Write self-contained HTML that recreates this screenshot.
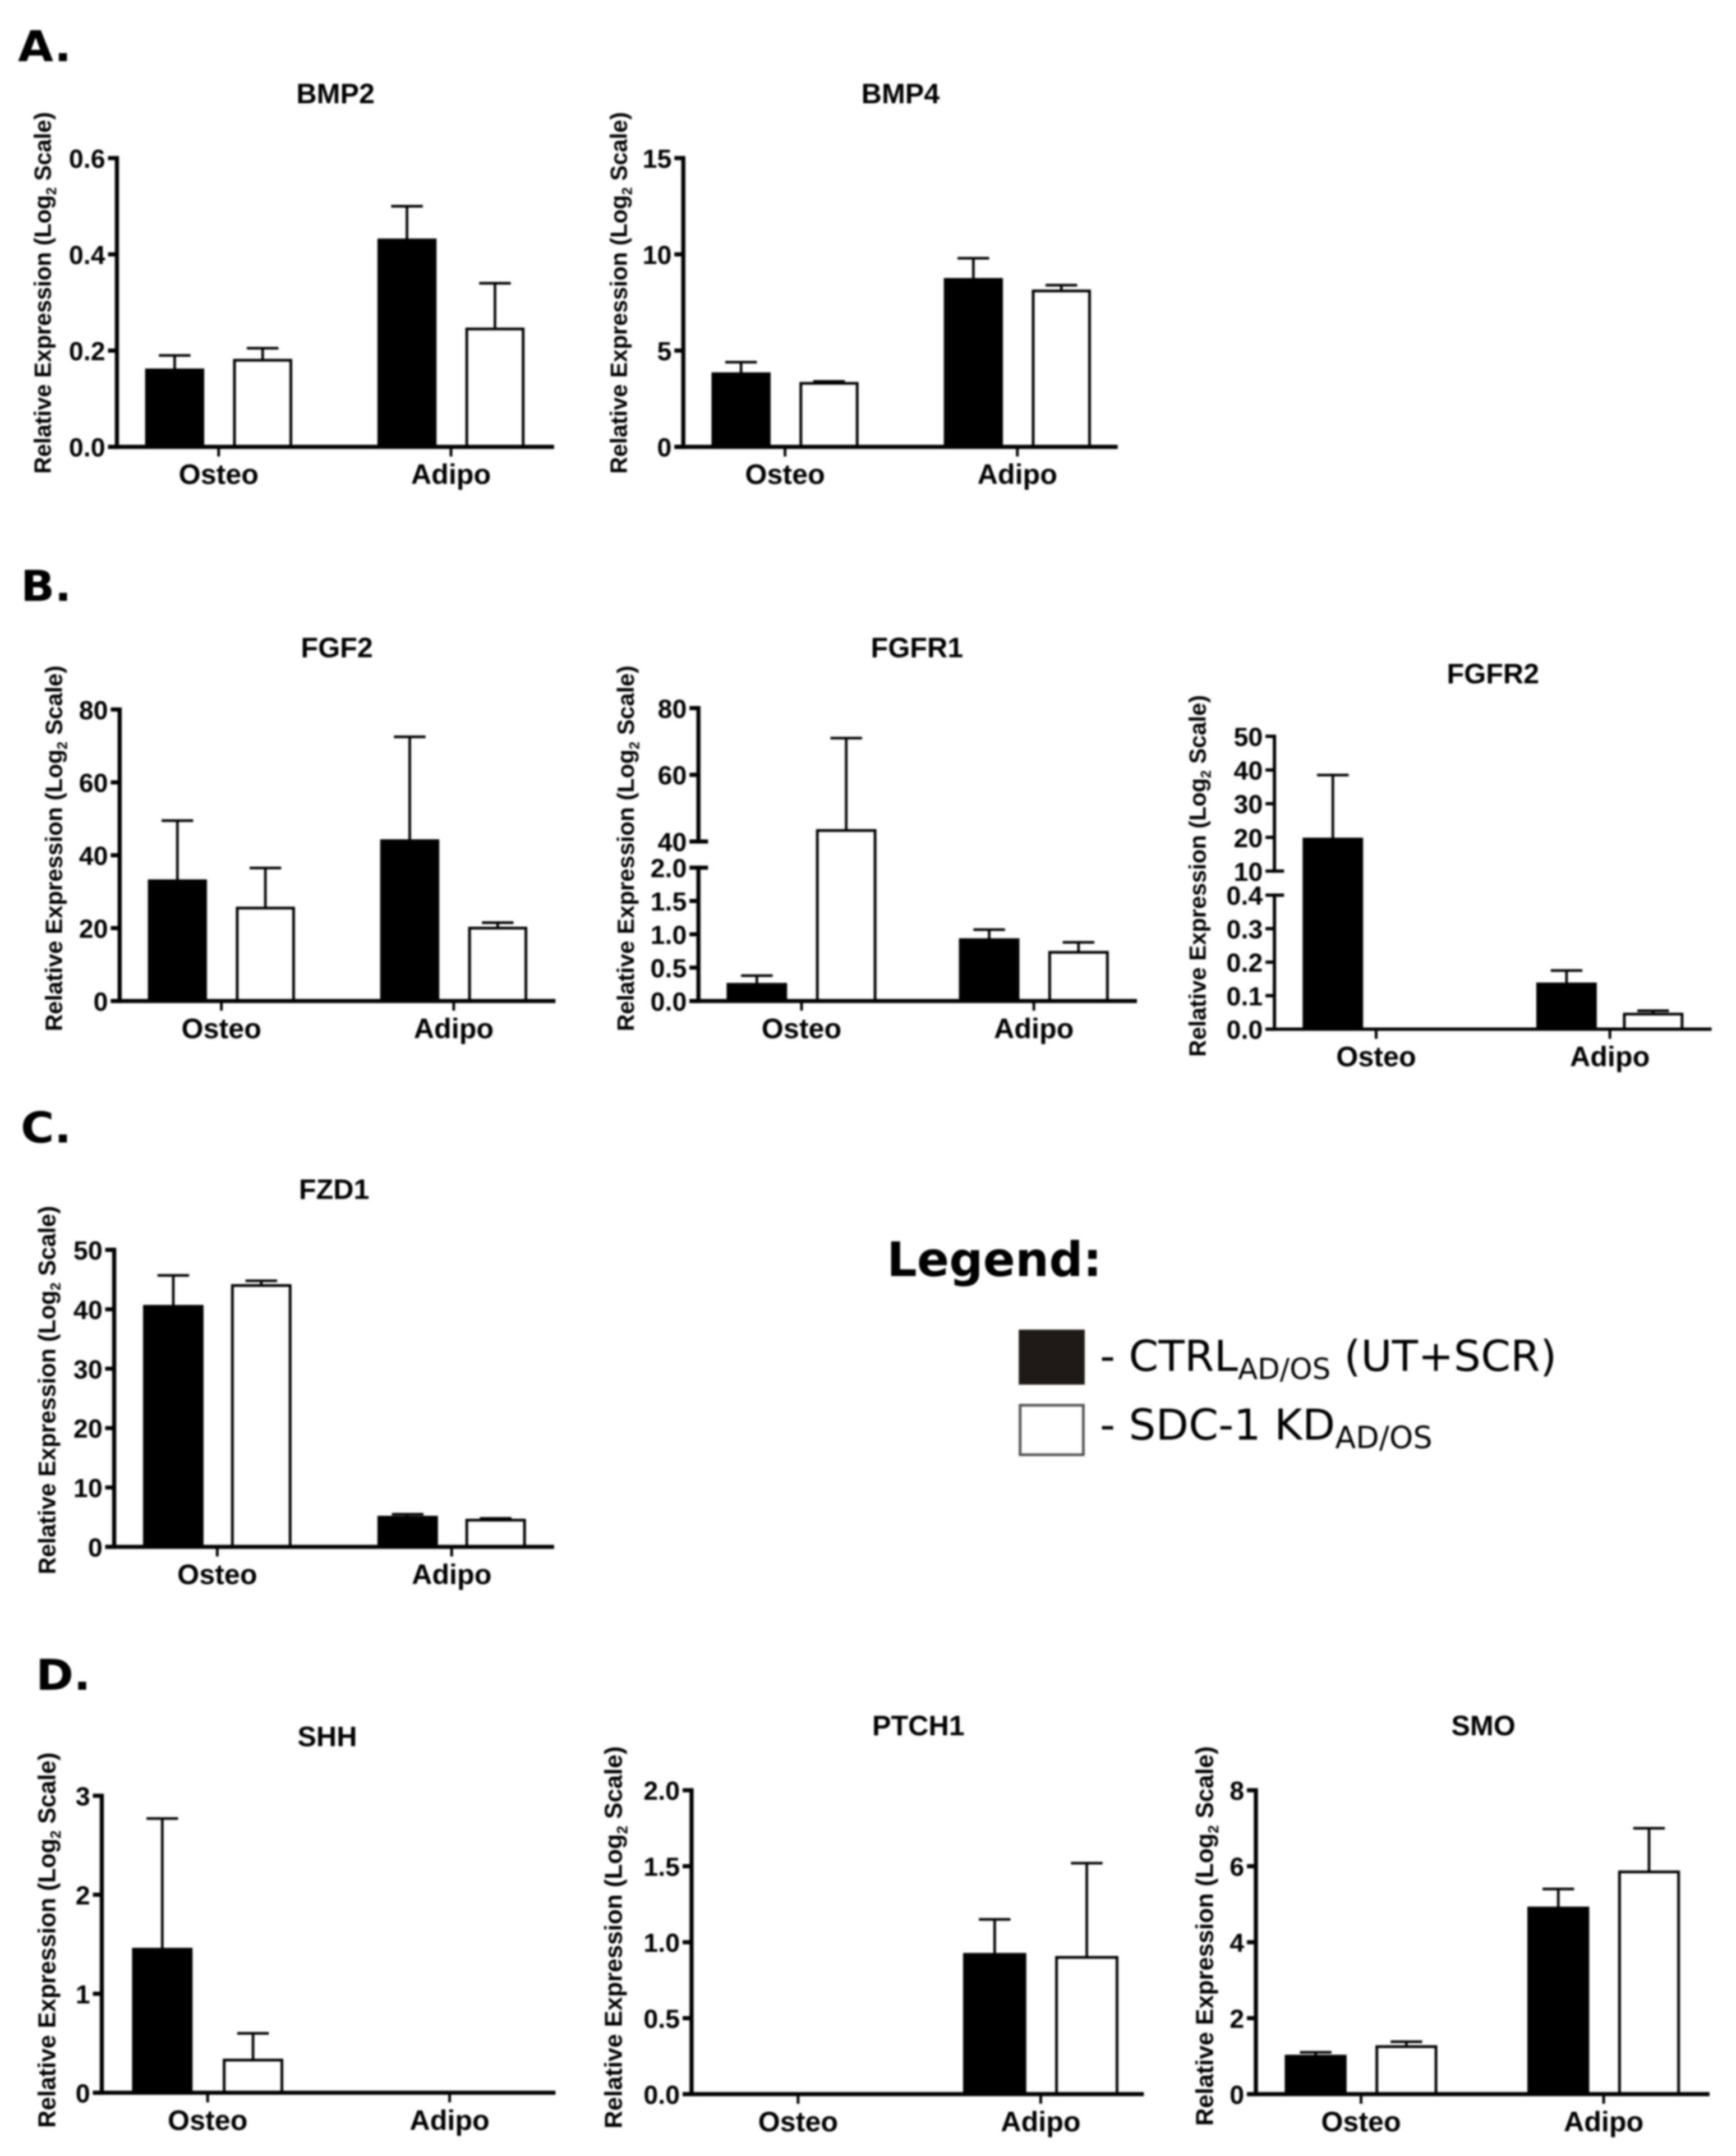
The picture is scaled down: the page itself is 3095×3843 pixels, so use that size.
<!DOCTYPE html>
<html lang="en">
<head>
<meta charset="utf-8">
<title>Relative expression bar charts</title>
<style>
html,body{margin:0;padding:0;background:#fff;width:3095px;height:3843px;overflow:hidden}
svg{display:block;filter:blur(1.6px)}
text{font-family:"Liberation Sans",Arial,sans-serif;fill:#000}
.dv{font-family:"DejaVu Sans",Verdana,sans-serif}
</style>
</head>
<body>
<svg id="figure" xmlns="http://www.w3.org/2000/svg" width="3095" height="3843" viewBox="0 0 1262.7 1568">
  <text class="dv" x="13" y="44.5" font-size="31" font-weight="700" textLength="39" lengthAdjust="spacingAndGlyphs">A.</text>
  <text class="dv" x="15" y="437" font-size="31" font-weight="700" textLength="37" lengthAdjust="spacingAndGlyphs">B.</text>
  <text class="dv" x="15" y="831" font-size="31" font-weight="700" textLength="37" lengthAdjust="spacingAndGlyphs">C.</text>
  <text class="dv" x="26" y="1229" font-size="31" font-weight="700" textLength="40" lengthAdjust="spacingAndGlyphs">D.</text>
  <g>
    <text class="dv" x="645" y="928" font-size="34.5" font-weight="700">Legend:</text>
    <rect x="741" y="967" width="48" height="40" fill="#1f1a17"/>
    <text class="dv" x="800" y="997" font-size="31">- CTRL<tspan font-size="21" dy="6">AD/OS</tspan><tspan dy="-6"> (UT+SCR)</tspan></text>
    <rect x="742" y="1022" width="46" height="36" fill="#fff" stroke="#555" stroke-width="2"/>
    <text class="dv" x="800" y="1047" font-size="31">- SDC-1 KD<tspan font-size="22" dy="6">AD/OS</tspan></text>
  </g>
  <g id="charts"></g>
</svg>
<script>
// ---- chart data ----
const categories = ['Osteo', 'Adipo'];

const bmp2Ctrl = [0.16, 0.43];
const bmp2Kd = [0.18, 0.245];
const bmp2CtrlTop = [0.19, 0.50];
const bmp2KdTop = [0.205, 0.34];
const bmp2Ticks = [0, 0.2, 0.4, 0.6];
const bmp2Labels = ['0.0', '0.2', '0.4', '0.6'];

const bmp4Ctrl = [3.8, 8.7];
const bmp4Kd = [3.3, 8.1];
const bmp4CtrlTop = [4.4, 9.8];
const bmp4KdTop = [3.4, 8.4];
const bmp4Ticks = [0, 5, 10, 15];
const bmp4Labels = ['0', '5', '10', '15'];

const fgf2Ctrl = [33, 44];
const fgf2Kd = [25.5, 20];
const fgf2CtrlTop = [49.5, 72.5];
const fgf2KdTop = [36.5, 21.5];
const fgf2Ticks = [0, 20, 40, 60, 80];
const fgf2Labels = ['0', '20', '40', '60', '80'];

const fgfr1Ctrl = [0.25, 0.92];
const fgfr1Kd = [43.3, 0.73];
const fgfr1CtrlTop = [0.38, 1.07];
const fgfr1KdTop = [71, 0.88];
const fgfr1Ticks = [0, 0.5, 1, 1.5, 2, 40, 60, 80];
const fgfr1Labels = ['0.0', '0.5', '1.0', '1.5', '2.0', '40', '60', '80'];

const fgfr2Ctrl = [19.5, 0.135];
const fgfr2Kd = [0, 0.045];
const fgfr2CtrlTop = [38.5, 0.175];
const fgfr2KdTop = [0, 0.055];
const fgfr2Ticks = [0, 0.1, 0.2, 0.3, 0.4, 10, 20, 30, 40, 50];
const fgfr2Labels = ['0.0', '0.1', '0.2', '0.3', '0.4', '10', '20', '30', '40', '50'];

const fzd1Ctrl = [40.5, 5];
const fzd1Kd = [44, 4.5];
const fzd1CtrlTop = [45.7, 5.5];
const fzd1KdTop = [44.8, 4.8];
const fzd1Ticks = [0, 10, 20, 30, 40, 50];
const fzd1Labels = ['0', '10', '20', '30', '40', '50'];

const shhCtrl = [1.45, 0];
const shhKd = [0.33, 0];
const shhCtrlTop = [2.77, 0];
const shhKdTop = [0.6, 0];
const shhTicks = [0, 1, 2, 3];
const shhLabels = ['0', '1', '2', '3'];

const ptch1Ctrl = [0, 0.92];
const ptch1Kd = [0, 0.9];
const ptch1CtrlTop = [0, 1.15];
const ptch1KdTop = [0, 1.52];
const ptch1Ticks = [0, 0.5, 1, 1.5, 2];
const ptch1Labels = ['0.0', '0.5', '1.0', '1.5', '2.0'];

const smoCtrl = [1.0, 4.9];
const smoKd = [1.25, 5.85];
const smoCtrlTop = [1.1, 5.4];
const smoKdTop = [1.38, 7.0];
const smoTicks = [0, 2, 4, 6, 8];
const smoLabels = ['0', '2', '4', '6', '8'];

// ---- panel layout ----
const NS = 'http://www.w3.org/2000/svg';
const root = document.getElementById('charts');

function mk(tag, attrs, parent) {
  const el = document.createElementNS(NS, tag);
  for (const k in attrs) el.setAttribute(k, attrs[k]);
  parent.appendChild(el);
  return el;
}

const panels = [
  {id:'bmp2', title:'BMP2', tx:244, ty:75, ax:85, xEnd:403, groups:[159,328], off:32, bw:43, yx:31, ycy:213, ylen:263, sw:3,
   segs:[{d:[0,0.6], p:[325,115]}], ctrl:bmp2Ctrl, kd:bmp2Kd, ctrlTop:bmp2CtrlTop, kdTop:bmp2KdTop, ticks:bmp2Ticks, labels:bmp2Labels},
  {id:'bmp4', title:'BMP4', tx:655, ty:75, ax:497, xEnd:813, groups:[571,740], off:32, bw:43, yx:450, ycy:213, ylen:263, sw:3,
   segs:[{d:[0,15], p:[325,115]}], ctrl:bmp4Ctrl, kd:bmp4Kd, ctrlTop:bmp4CtrlTop, kdTop:bmp4KdTop, ticks:bmp4Ticks, labels:bmp4Labels},
  {id:'fgf2', title:'FGF2', tx:245, ty:478, ax:87, xEnd:404, groups:[161,330], off:32, bw:43, yx:39, ycy:617, ylen:266, sw:3,
   segs:[{d:[0,80], p:[728,516]}], ctrl:fgf2Ctrl, kd:fgf2Kd, ctrlTop:fgf2CtrlTop, kdTop:fgf2KdTop, ticks:fgf2Ticks, labels:fgf2Labels},
  {id:'fgfr1', title:'FGFR1', tx:667, ty:478, ax:508, xEnd:827, groups:[583,752], off:32.5, bw:44, yx:455, ycy:617, ylen:266, sw:3,
   segs:[{d:[0,2], p:[728,631]}, {d:[40,80], p:[612,515]}], ctrl:fgfr1Ctrl, kd:fgfr1Kd, ctrlTop:fgfr1CtrlTop, kdTop:fgfr1KdTop, ticks:fgfr1Ticks, labels:fgfr1Labels},
  {id:'fgfr2', title:'FGFR2', tx:1086, ty:497, ax:927, xEnd:1245, groups:[1001,1171], off:31.5, bw:44, yx:871, ycy:637, ylen:263, sw:2.4,
   segs:[{d:[0,0.4], p:[748.5,651]}, {d:[10,50], p:[633.5,535.5]}], ctrl:fgfr2Ctrl, kd:fgfr2Kd, ctrlTop:fgfr2CtrlTop, kdTop:fgfr2KdTop, ticks:fgfr2Ticks, labels:fgfr2Labels},
  {id:'fzd1', title:'FZD1', tx:243, ty:872, ax:83, xEnd:403, groups:[158,328.5], off:32, bw:44, yx:34, ycy:1011, ylen:268, sw:3,
   segs:[{d:[0,50], p:[1125,909]}], ctrl:fzd1Ctrl, kd:fzd1Kd, ctrlTop:fzd1CtrlTop, kdTop:fzd1KdTop, ticks:fzd1Ticks, labels:fzd1Labels},
  {id:'shh', title:'SHH', tx:238, ty:1270, ax:74, xEnd:404, groups:[151,327], off:33, bw:44, yx:34, ycy:1411, ylen:273, sw:3,
   segs:[{d:[0,3], p:[1522,1306]}], ctrl:shhCtrl, kd:shhKd, ctrlTop:shhCtrlTop, kdTop:shhKdTop, ticks:shhTicks, labels:shhLabels},
  {id:'ptch1', title:'PTCH1', tx:668, ty:1262, ax:503, xEnd:832, groups:[580.5,757], off:33.5, bw:46, yx:446, ycy:1409, ylen:278, sw:3,
   segs:[{d:[0,2], p:[1523,1302]}], ctrl:ptch1Ctrl, kd:ptch1Kd, ctrlTop:ptch1CtrlTop, kdTop:ptch1KdTop, ticks:ptch1Ticks, labels:ptch1Labels},
  {id:'smo', title:'SMO', tx:1079, ty:1262, ax:913.5, xEnd:1243.5, groups:[990,1166.5], off:33, bw:45, yx:876, ycy:1408, ylen:276, sw:3,
   segs:[{d:[0,8], p:[1523,1302]}], ctrl:smoCtrl, kd:smoKd, ctrlTop:smoCtrlTop, kdTop:smoKdTop, ticks:smoTicks, labels:smoLabels}
];

// y axis function: maps a value to a y coordinate, choosing the axis segment
function yScale(panel, v) {
  let seg = panel.segs[0];
  if (panel.segs.length > 1 && v > panel.segs[0].d[1]) seg = panel.segs[1];
  const t = (v - seg.d[0]) / (seg.d[1] - seg.d[0]);
  return seg.p[0] + t * (seg.p[1] - seg.p[0]);
}

// x axis function: centre of a bar in a category group (series -1 or +1)
function xScale(panel, groupIndex, side) {
  return panel.groups[groupIndex] + side * panel.off;
}

function drawSeries(panel, g, values, tops, side, fill, seriesName) {
  values.forEach(function (v, i) {
    const cx = xScale(panel, i, side);
    const y0 = panel.segs[0].p[0];
    const y = yScale(panel, v);
    const topY = yScale(panel, tops[i]);

    const stem = mk('line', {x1:cx, x2:cx, y1:y, y2:topY, stroke:'#000', 'stroke-width':1.9}, g);
    
    

    const cap = mk('line', {x1:cx - 11.5, x2:cx + 11.5, y1:topY, y2:topY, stroke:'#000', 'stroke-width':1.9}, g);
    
    

    const bar = mk('rect', {x:cx - panel.bw / 2 + 1, y:y, width:panel.bw - 2, height:Math.max(0, y0 - y), fill:fill, stroke:'#000', 'stroke-width':2}, g);
    
    
  });
}

panels.forEach(function (p) {
  const g = mk('g', {}, root);
  
  

  const title = mk('text', {x:p.tx, y:p.ty, 'text-anchor':'middle', 'font-size':20.5, 'font-weight':700}, g);
  title.textContent = p.title;
  
  

  const fs = p.ylen / 15.5;
  const yt = mk('text', {transform:'translate(' + (p.yx + fs * 0.35) + ',' + p.ycy + ') rotate(-90)', 'text-anchor':'middle', 'font-size':fs, 'font-weight':700}, g);
  
  
  yt.appendChild(document.createTextNode('Relative Expression (Log'));
  const sub = mk('tspan', {'font-size':fs * 0.6, dy:fs * 0.22}, yt);
  sub.textContent = '2';
  const rest = mk('tspan', {dy:-fs * 0.22}, yt);
  rest.textContent = ' Scale)';

  drawSeries(p, g, p.ctrl, p.ctrlTop, -1, '#000', 'ctrl');
  drawSeries(p, g, p.kd, p.kdTop, 1, '#fff', 'kd');

  // y axis segments
  p.segs.forEach(function (s, i) {
    const ya = mk('line', {x1:p.ax, x2:p.ax, y1:s.p[0] + p.sw / 2, y2:s.p[1] - p.sw / 2, stroke:'#000', 'stroke-width':p.sw}, g);
    
    
  });

  // y ticks + labels
  const breakVals = p.segs.length > 1 ? [p.segs[0].d[1], p.segs[1].d[0]] : [];
  p.ticks.forEach(function (t, i) {
    const y = yScale(p, t);
    const isBreak = breakVals.indexOf(t) >= 0;
    const tick = mk('line', {x1:p.ax - 6.5, x2:p.ax + (isBreak ? 7 : 0), y1:y, y2:y, stroke:'#000', 'stroke-width':p.sw}, g);
    
    

    const lab = mk('text', {x:p.ax - 8.5, y:y + 7, 'text-anchor':'end', 'font-size':19, 'font-weight':700}, g);
    lab.textContent = p.labels[i];
    
    
  });

  // x axis
  const y0 = p.segs[0].p[0];
  const xa = mk('line', {x1:p.ax - 6.5, x2:p.xEnd, y1:y0, y2:y0, stroke:'#000', 'stroke-width':p.sw}, g);
  
  

  categories.forEach(function (c, i) {
    const tx = p.groups[i];
    const tick = mk('line', {x1:tx, x2:tx, y1:y0, y2:y0 + 7, stroke:'#000', 'stroke-width':2}, g);
    
    

    const lab = mk('text', {x:tx, y:y0 + 27, 'text-anchor':'middle', 'font-size':20.5, 'font-weight':700}, g);
    lab.textContent = c;
    
    
  });
});
</script>
</body>
</html>
